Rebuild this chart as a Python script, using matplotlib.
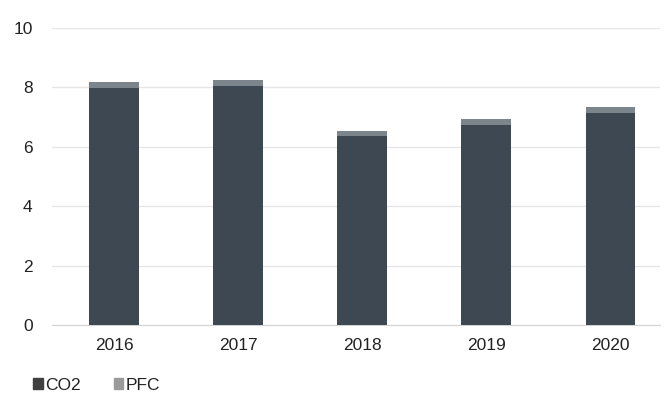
import matplotlib.pyplot as plt
from matplotlib.patches import Patch

plt.rcParams['font.family'] = ['Liberation Sans', 'DejaVu Sans']

years = ['2016', '2017', '2018', '2019', '2020']
co2 = [7.98, 8.06, 6.35, 6.72, 7.14]
pfc = [0.19, 0.18, 0.18, 0.22, 0.20]

co2_color = '#3e4852'
pfc_color = '#7d858c'

fig = plt.figure(figsize=(6.65, 3.94), dpi=100)
ax = fig.add_axes([52 / 665, 1 - 325 / 394, 608 / 665, 297 / 394])

x = range(len(years))
ax.bar(x, co2, width=0.4, color=co2_color, zorder=3)
ax.bar(x, pfc, width=0.4, bottom=co2, color=pfc_color, zorder=3)

ax.set_ylim(0, 10)
ax.set_xlim(-0.5, 4.4)
ax.set_yticks([0, 2, 4, 6, 8, 10])
ax.set_xticks(list(x))
ax.set_xticklabels(years)
ax.yaxis.grid(True, color='#e6e6e6', linewidth=1, zorder=0)
ax.tick_params(length=0, labelsize=12.5, labelcolor='#222222')
ax.tick_params(axis='y', pad=14)
ax.tick_params(axis='x', pad=9)
for s in ['top', 'right', 'left']:
    ax.spines[s].set_visible(False)
ax.spines['bottom'].set_color('#d4d4d4')

handles = [Patch(color='#404040', label='CO2'), Patch(color='#9a9a9a', label='PFC')]
fig.legend(handles=handles, loc='center left', bbox_to_anchor=(33 / 665, 1 - 385 / 394),
           ncol=2, frameon=False, fontsize=12.5, handlelength=0.55, handleheight=0.55,
           handletextpad=0.15, columnspacing=1.9, labelcolor='#222222',
           borderaxespad=0, borderpad=0)

fig.savefig('out.png', dpi=100)
